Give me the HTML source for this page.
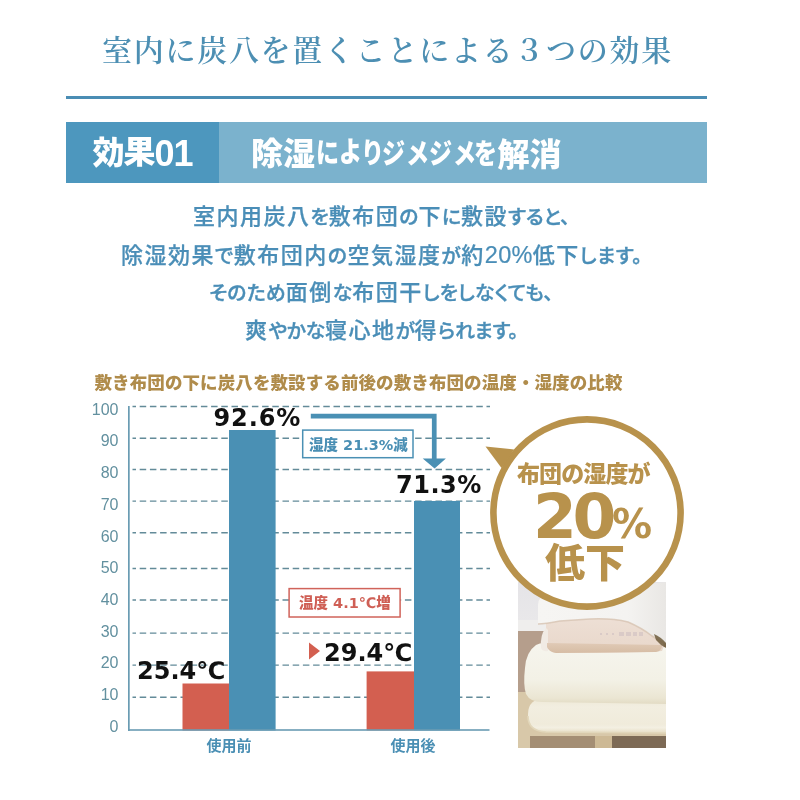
<!DOCTYPE html>
<html lang="ja">
<head>
<meta charset="utf-8">
<style>
html,body{margin:0;padding:0;background:#fff;}
body{width:800px;height:800px;position:relative;overflow:hidden;font-family:"Liberation Sans","Noto Sans CJK JP",sans-serif;}
.a{position:absolute;white-space:nowrap;}
#title{left:102px;top:29px;font-family:"Liberation Serif","Noto Serif CJK JP",serif;font-weight:600;font-size:30px;color:#4d8fb3;letter-spacing:1.72px;line-height:44px;}
#rule{left:66px;top:96px;width:641px;height:3px;background:#4a8db4;}
#bn1{left:66px;top:122px;width:153px;height:61px;background:#4d97be;}
#bn2{left:219px;top:122px;width:488px;height:61px;background:#7bb2cd;}
.body{color:#4a8eb7;font-size:19.8px;line-height:30px;font-weight:500;-webkit-text-stroke:0.4px #4a8eb7;font-feature-settings:"palt";}
#p1{left:193.00px;top:202px;letter-spacing:0.000px;}
#p2{left:121.00px;top:240px;letter-spacing:0.500px;}
#p3{left:209.40px;top:278px;letter-spacing:0.183px;}
#p4{left:245.00px;top:316px;letter-spacing:-0.250px;}
#ct{left:94.5px;top:370px;color:#b08c4b;font-weight:900;font-size:17.5px;line-height:26px;letter-spacing:0.1px;}
.yl{right:681.5px;font-size:16px;line-height:20px;color:#62909f;}
.num{font-family:"DejaVu Sans","Noto Sans CJK JP",sans-serif;font-weight:bold;font-size:24px;line-height:30px;color:#111;}
#n1{left:213.5px;top:402.5px;letter-spacing:0.9px;}
#n2{left:396px;top:470px;letter-spacing:0.5px;}
#n3{left:137px;top:656px;}
#n4{left:324px;top:637.5px;}
.bx{font-family:"DejaVu Sans","Noto Sans CJK JP",sans-serif;font-weight:900;font-size:14.5px;line-height:20px;}
#b1{left:309px;top:435px;}
#b2{left:299px;top:593px;}
.xl{font-weight:bold;font-size:15px;line-height:20px;color:#4a8fb4;}
#x1{left:206.5px;top:736px;}
#x2{left:390.5px;top:736px;}
.ci{color:#b8924c;font-weight:900;text-align:center;}
#c1{left:517px;top:458.5px;font-size:23px;line-height:30px;letter-spacing:-0.9px;}
#c2{left:533px;top:477px;font-family:"DejaVu Sans",sans-serif;font-weight:bold;font-size:63px;line-height:80px;letter-spacing:-4.4px;text-align:left;}
#c3{left:545px;top:538px;font-size:40px;line-height:50px;}
.g{position:absolute;white-space:nowrap;line-height:1;color:#fff;font-weight:900;transform-origin:0 0;}
#photo{left:518px;top:582px;}
.p{position:absolute;}
.k{letter-spacing:1.5px;font-size:22px;-webkit-text-stroke-width:0.25px;}
.d{letter-spacing:0.3px;font-size:23.5px;-webkit-text-stroke-width:0.2px;}
</style>
</head>
<body>
<div class="a" id="title">室内に炭八を置くことによる３つの効果</div>
<div class="a" id="rule"></div>
<div class="a" id="bn1"></div>
<div class="a" id="bn2"></div>
<span class="g" style="left:92.5px;top:137px;font-size:32px">効</span><span class="g" style="left:123.5px;top:136px;font-size:32px">果</span><span class="g" style="left:154.5px;top:136px;font-size:36px">0</span><span class="g" style="left:173.5px;top:136px;font-size:36px">1</span>
<span class="g" style="left:251.0px;top:138px;font-size:32px">除</span><span class="g" style="left:283.0px;top:138px;font-size:32px">湿</span><span class="g" style="left:316.0px;top:138.5px;font-size:28.5px;transform:scaleX(0.81)">に</span><span class="g" style="left:338.9px;top:138px;font-size:28.5px;transform:scaleX(0.81)">よ</span><span class="g" style="left:360.5px;top:139px;font-size:28.5px;transform:scaleX(0.81)">り</span><span class="g" style="left:382.3px;top:140px;font-size:28.5px;transform:scaleX(0.81)">ジ</span><span class="g" style="left:405.5px;top:140px;font-size:28.5px;transform:scaleX(0.81)">メ</span><span class="g" style="left:428.8px;top:140px;font-size:28.5px;transform:scaleX(0.81)">ジ</span><span class="g" style="left:453.1px;top:140px;font-size:28.5px;transform:scaleX(0.81)">メ</span><span class="g" style="left:474.3px;top:139.5px;font-size:28.5px;transform:scaleX(0.81)">を</span><span class="g" style="left:497.4px;top:139px;font-size:32px">解</span><span class="g" style="left:529.5px;top:139px;font-size:32px">消</span>
<div class="a body" id="p1"><span class="k">室内用炭八</span>を<span class="k">敷布団</span>の<span class="k">下</span>に<span class="k">敷設</span>すると、</div>
<div class="a body" id="p2"><span class="k">除湿効果</span>で<span class="k">敷布団内</span>の<span class="k">空気湿度</span>が<span class="k">約</span><span class="d">20%</span><span class="k">低下</span>します。</div>
<div class="a body" id="p3">そのため<span class="k">面倒</span>な<span class="k">布団干</span>しをしなくても、</div>
<div class="a body" id="p4"><span class="k">爽</span>やかな<span class="k">寝心地</span>が<span class="k">得</span>られます。</div>
<div class="a" id="ct">敷き布団の下に炭八を敷設する前後の敷き布団の温度・湿度の比較</div>
<svg class="a" style="left:0;top:0" width="800" height="800" viewBox="0 0 800 800">
<g stroke="#638b99" stroke-width="1.45" stroke-dasharray="6.5 3.7" stroke-dashoffset="3" fill="none"><line x1="132.5" y1="406.4" x2="490" y2="406.4"/><line x1="132.5" y1="438.2" x2="490" y2="438.2"/><line x1="132.5" y1="469.5" x2="490" y2="469.5"/><line x1="132.5" y1="501.1" x2="490" y2="501.1"/><line x1="132.5" y1="532.8" x2="490" y2="532.8"/><line x1="132.5" y1="568.5" x2="490" y2="568.5"/><line x1="132.5" y1="600" x2="490" y2="600"/><line x1="132.5" y1="633.1" x2="490" y2="633.1"/><line x1="132.5" y1="665.1" x2="490" y2="665.1"/><line x1="132.5" y1="697.3" x2="490" y2="697.3"/></g>
<rect x="182.5" y="683.5" width="46.5" height="47" fill="#d35f50"/>
<rect x="229" y="430" width="46.6" height="300.5" fill="#4a90b4"/>
<rect x="366.6" y="671.4" width="47.4" height="59" fill="#d35f50"/>
<rect x="414" y="501" width="46" height="229.5" fill="#4a90b4"/>
<rect x="128" y="406" width="1.7" height="325" fill="#6a9cb3"/>
<rect x="128" y="729.2" width="361.5" height="1.6" fill="#6a9cb3"/>
</svg>
<div class="a yl" style="top:399.5px">100</div>
<div class="a yl" style="top:431.2px">90</div>
<div class="a yl" style="top:463.0px">80</div>
<div class="a yl" style="top:494.7px">70</div>
<div class="a yl" style="top:526.5px">60</div>
<div class="a yl" style="top:558.2px">50</div>
<div class="a yl" style="top:589.9px">40</div>
<div class="a yl" style="top:621.7px">30</div>
<div class="a yl" style="top:653.4px">20</div>
<div class="a yl" style="top:685.2px">10</div>
<div class="a yl" style="top:716.9px">0</div>
<svg class="a" style="left:0;top:0" width="800" height="800" viewBox="0 0 800 800">
<path d="M310.8 413.8 H436.6 V458.4 H445.9 L434.6 468.4 L422.7 458.4 H431.9 V418.6 H310.8 Z" fill="#4a90b4"/>
<rect x="302.7" y="430.1" width="110.3" height="27.6" fill="#fff" stroke="#4a90b4" stroke-width="1.5"/>
<rect x="289.1" y="588.6" width="111" height="28.4" fill="#fff" stroke="#d0635a" stroke-width="1.5"/>
<path d="M309 642.5 L320 651 L309 659.5 Z" fill="#d35f50"/>
</svg>
<div class="a num" id="n1">92.6%</div>
<div class="a num" id="n2">71.3%</div>
<div class="a num" id="n3">25.4℃</div>
<div class="a num" id="n4">29.4℃</div>
<div class="a bx" id="b1" style="color:#4a8fb4">湿度 21.3%減</div>
<div class="a bx" id="b2" style="color:#cf5f55">温度 4.1℃増</div>
<div class="a xl" id="x1">使用前</div>
<div class="a xl" id="x2">使用後</div>
<svg class="a" id="photo" width="148" height="166" viewBox="518 582 148 166">
<defs>
<linearGradient id="gw" x1="0" y1="0" x2="0" y2="1"><stop offset="0" stop-color="#e5e4e7"/><stop offset="1" stop-color="#e9e8ea"/></linearGradient>
<linearGradient id="gf" x1="0" y1="0" x2="0" y2="1"><stop offset="0" stop-color="#f6f5ee"/><stop offset="0.6" stop-color="#f3f1e6"/><stop offset="0.9" stop-color="#ebe6d3"/><stop offset="1" stop-color="#e2dbc4"/></linearGradient>
<linearGradient id="gm" x1="0" y1="0" x2="0" y2="1"><stop offset="0" stop-color="#eee8d6"/><stop offset="0.25" stop-color="#f2eee0"/><stop offset="0.75" stop-color="#f0ebdb"/><stop offset="0.85" stop-color="#f3efe2"/><stop offset="1" stop-color="#e6ddc3"/></linearGradient>
<linearGradient id="gp" x1="0" y1="0" x2="0" y2="1"><stop offset="0" stop-color="#eee0d6"/><stop offset="1" stop-color="#e8d7ca"/></linearGradient>
<linearGradient id="gb" x1="0" y1="0" x2="0" y2="1"><stop offset="0" stop-color="#e0cab6"/><stop offset="1" stop-color="#d6bca4"/></linearGradient>
<linearGradient id="gwp" x1="0" y1="0" x2="1" y2="0"><stop offset="0" stop-color="#f6f5f3"/><stop offset="0.7" stop-color="#f4f3f1"/><stop offset="1" stop-color="#e9e7e4"/></linearGradient>
</defs>
<rect x="518" y="582" width="148" height="40" fill="url(#gw)"/>
<rect x="518" y="620" width="148" height="11" fill="#efeeed"/>
<rect x="518" y="631" width="148" height="63" fill="#b59e8c"/>
<rect x="518" y="692" width="148" height="56" fill="#d8c8a9"/>
<rect x="530" y="736" width="65" height="12" fill="#a48e74"/>
<rect x="595" y="736" width="17" height="12" fill="#cdb995"/>
<rect x="612" y="736" width="54" height="12" fill="#7d6a55"/>
<path d="M666 698 L545 698 Q528 699 528 714 L528 716 Q528 731 546 732 L666 733 Z" fill="url(#gm)"/>
<path d="M528 716 Q528 731 546 732 L666 733" fill="none" stroke="#e2d7bb" stroke-width="1.6"/>
<path d="M666 647 L556 648 Q546 640 536 645 Q526 652 525 668 Q523 685 526 694 Q530 702 542 702 L666 704 Z" fill="url(#gf)"/>
<path d="M546 622 Q546 614 556 614 L640 616 Q660 628 664 646 L662 651 Q640 653 556 653 Q548 652 546 644 Z" fill="url(#gp)"/>
<path d="M546 628 Q540 634 541 648 Q543 652 548 651 L548 630 Z" fill="#f1ebe4"/>
<path d="M547 643 L662 645 Q662 651 656 652 L556 653 Q549 652 547 647 Z" fill="url(#gb)"/>
<path d="M538 605 Q538 596 548 595 L666 582 L666 644 Q660 641 652 636 Q642 628 628 622 Q612 618 590 619 L560 621 Q545 624 538 624 Z" fill="url(#gwp)"/>
<path d="M538 624 Q545 624 560 621 L590 619 Q612 618 628 622 Q642 628 652 636 Q660 641 666 644" fill="none" stroke="#d7c3b1" stroke-width="1.6" opacity="0.8"/>
<path d="M654 634 Q661 637 666 643 L666 648 Q660 645 656 640 Z" fill="#6e5c3c" opacity="0.85"/>
<g fill="#cfc0c2" opacity="0.6"><rect x="600" y="633" width="2" height="2"/><rect x="606" y="633" width="2" height="2"/><rect x="612" y="633" width="2" height="2"/><rect x="619" y="632" width="5" height="4"/><rect x="626" y="632" width="5" height="4"/><rect x="633" y="632" width="4" height="4"/><rect x="639" y="632" width="4" height="4"/></g>
</svg>
</div>
<svg class="a" style="left:0;top:0" width="800" height="800" viewBox="0 0 800 800">
<circle cx="587" cy="513" r="93.6" fill="#fff" stroke="#b8924c" stroke-width="6.6"/>
<path d="M485.5 446.5 L514 449.5 L501.5 468 Z" fill="#b8924c"/>
</svg>
<div class="a ci" id="c1">布団の湿度が</div>
<div class="a ci" id="c2">20<span style="font-size:40px;letter-spacing:0">%</span></div>
<div class="a ci" id="c3">低下</div>
</body>
</html>
